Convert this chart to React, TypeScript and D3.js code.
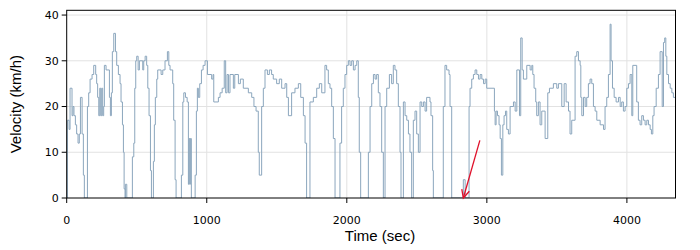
import React from "react";
import * as d3 from "d3";

const times: number[] = [
  0, 5, 17, 24, 38, 45, 52, 62, 71, 81, 90, 98, 110, 119, 126, 148, 157, 167, 181, 193,
  207, 214, 221, 229, 236, 243, 250, 257, 264, 269, 281, 305, 312, 319, 326, 336, 348, 357, 369, 381,
  388, 398, 405, 410, 417, 419, 429, 469, 479, 486, 493, 500, 510, 519, 543, 550, 560, 571, 579, 588,
  598, 605, 619, 626, 633, 643, 650, 674, 686, 702, 719, 729, 738, 757, 764, 774, 781, 819, 829, 836,
  848, 860, 869, 874, 879, 883, 890, 917, 926, 933, 940, 950, 962, 974, 988, 1005, 1035, 1045, 1050, 1083,
  1095, 1110, 1125, 1135, 1145, 1155, 1166, 1190, 1200, 1226, 1240, 1261, 1297, 1321, 1337, 1352, 1368, 1375, 1392, 1404,
  1416, 1433, 1447, 1463, 1475, 1499, 1518, 1535, 1559, 1571, 1583, 1606, 1630, 1654, 1671, 1690, 1702, 1713, 1737, 1761,
  1785, 1804, 1821, 1844, 1856, 1868, 1880, 1892, 1904, 1916, 1951, 1963, 1975, 1987, 1999, 2011, 2023, 2035, 2047, 2059,
  2071, 2082, 2089, 2099, 2154, 2166, 2178, 2190, 2202, 2213, 2225, 2237, 2249, 2261, 2273, 2285, 2304, 2320, 2332, 2344,
  2356, 2368, 2380, 2387, 2404, 2416, 2428, 2440, 2451, 2463, 2475, 2487, 2499, 2511, 2523, 2535, 2547, 2559, 2570, 2594,
  2601, 2613, 2618, 2689, 2701, 2713, 2730, 2737, 2749, 2832, 2845, 2873, 2880, 2892, 2904, 2916, 2928, 2940, 2952, 2964,
  2976, 2988, 2999, 3054, 3059, 3066, 3076, 3087, 3095, 3104, 3114, 3123, 3133, 3142, 3154, 3166, 3190, 3202, 3214, 3233,
  3242, 3252, 3261, 3285, 3309, 3321, 3328, 3337, 3349, 3356, 3368, 3380, 3392, 3416, 3435, 3447, 3475, 3499, 3511, 3535,
  3552, 3566, 3583, 3594, 3606, 3630, 3642, 3654, 3666, 3671, 3678, 3690, 3702, 3713, 3725, 3737, 3749, 3761, 3773, 3785,
  3809, 3833, 3844, 3856, 3868, 3880, 3887, 3897, 3909, 3923, 3940, 3952, 3963, 3975, 3987, 3999, 4011, 4023, 4035, 4042,
  4070, 4082, 4094, 4106, 4118, 4130, 4142, 4154, 4166, 4175, 4185, 4194, 4209, 4225, 4237, 4252, 4261, 4270, 4278, 4285,
  4297, 4309, 4321, 4332, 4347,
];

const velocities: number[] = [
  0, 17, 15, 24, 18, 20, 18, 16, 14, 12, 14, 22, 14, 5, 0, 20, 23, 26, 27, 29,
  27, 25, 22, 18, 24, 18, 24, 18, 20, 29, 28, 22, 18, 23, 32, 36, 32, 29, 27, 25,
  21, 16, 10, 2, 0, 3, 0, 9, 12, 24, 30, 31, 28, 30, 28, 30, 31, 29, 24, 18,
  6, 0, 8, 16, 22, 26, 28, 27, 28, 30, 32, 29, 28, 25, 17, 4, 0, 5, 21, 23,
  22, 21, 3, 13, 3, 13, 0, 5, 19, 24, 22, 25, 28, 29, 30, 27, 26, 27, 21, 22,
  23, 24, 30, 23, 27, 23, 27, 24, 27, 25, 26, 24, 23, 22, 20, 19, 10, 5, 20, 24,
  28, 27, 28, 27, 26, 25, 26, 24, 25, 22, 18, 23, 24, 25, 22, 18, 12, 0, 21, 22,
  24, 25, 23, 29, 28, 25, 24, 20, 13, 0, 12, 20, 24, 27, 29, 30, 29, 30, 28, 29,
  30, 22, 10, 0, 10, 20, 25, 27, 26, 27, 23, 20, 10, 0, 20, 24, 27, 25, 29, 28,
  25, 20, 10, 0, 21, 18, 17, 14, 10, 0, 17, 19, 14, 10, 21, 20, 21, 19, 22, 21,
  18, 6, 0, 20, 29, 28, 27, 20, 0, 4, 0, 20, 24, 26, 27, 28, 27, 26, 27, 26,
  25, 26, 24, 19, 16, 19, 18, 16, 13, 5, 16, 18, 19, 15, 14, 20, 21, 19, 28, 18,
  35, 28, 26, 29, 28, 29, 27, 24, 21, 18, 21, 16, 19, 13, 23, 24, 25, 24, 25, 20,
  25, 21, 19, 14, 17, 31, 32, 30, 29, 22, 18, 22, 20, 22, 25, 26, 25, 20, 19, 17,
  16, 15, 20, 22, 27, 38, 30, 24, 22, 21, 22, 20, 21, 19, 20, 24, 25, 27, 18, 29,
  21, 17, 16, 18, 17, 16, 17, 16, 15, 14, 18, 20, 24, 27, 32, 20, 34, 35, 31, 27,
  25, 24, 23, 22, 22,
];

const xTicks: number[] = [0, 1000, 2000, 3000, 4000];
const yTicks: number[] = [0, 10, 20, 30, 40];

const W = 700;
const H = 250;
const left = 66.7;
const right = 675.5;
const top = 10.3;
const bottom = 198;

export default function App() {
  const x = d3.scaleLinear().domain([0, 4347]).range([left, right]);
  const y = d3.scaleLinear().domain([0, 41.04]).range([bottom, top]);
  const pts: [number, number][] = times.map((t, i) => [t, velocities[i]]);
  const line = d3
    .line<[number, number]>()
    .x((d) => x(d[0]))
    .y((d) => y(d[1]))
    .curve(d3.curveStepAfter);

  // annotation arrow (in data space)
  const a0: [number, number] = [2950, 12.6];
  const a1: [number, number] = [2832, 0];
  const x0 = x(a0[0]), y0 = y(a0[1]), x1 = x(a1[0]), y1 = y(a1[1]);
  const ang = Math.atan2(y1 - y0, x1 - x0);
  const hl = 9;
  const hs = 0.45;
  const h1 = [x1 - hl * Math.cos(ang - hs), y1 - hl * Math.sin(ang - hs)];
  const h2 = [x1 - hl * Math.cos(ang + hs), y1 - hl * Math.sin(ang + hs)];

  const tickFont = "'DejaVu Sans', Verdana, sans-serif";
  const titleFont = "'Liberation Sans', Arial, sans-serif";

  return (
    <svg
      width={W}
      height={H}
      style={{ position: "absolute", left: 0, top: 0, background: "#fff" }}
    >
      <defs>
        <clipPath id="plotclip">
          <rect x={left} y={top} width={right - left} height={bottom - top} />
        </clipPath>
      </defs>
      <rect x={0} y={0} width={W} height={H} fill="#fff" />
      {/* grid */}
      {xTicks
        .filter((t) => t > 0)
        .map((t) => (
          <line key={"gx" + t} x1={x(t)} x2={x(t)} y1={top} y2={bottom} stroke="#e2e2e2" strokeWidth={1} />
        ))}
      {yTicks
        .filter((t) => t > 0)
        .map((t) => (
          <line key={"gy" + t} x1={left} x2={right} y1={y(t)} y2={y(t)} stroke="#e2e2e2" strokeWidth={1} />
        ))}
      {/* data */}
      <path
        d={line(pts) || ""}
        fill="none"
        stroke="#8ba6bd"
        strokeWidth={1}
        clipPath="url(#plotclip)"
      />
      {/* frame */}
      <rect x={left} y={top} width={right - left} height={bottom - top} fill="none" stroke="#000" strokeWidth={1} />
      {/* y ticks */}
      {yTicks.map((t) => (
        <g key={"yt" + t}>
          <line x1={left - 5} x2={left} y1={y(t)} y2={y(t)} stroke="#000" strokeWidth={1} />
          <text
            x={left - 8}
            y={y(t)}
            dy="0.35em"
            textAnchor="end"
            fontFamily={tickFont}
            fontSize={11}
            fill="#000"
          >
            {t}
          </text>
        </g>
      ))}
      {/* x ticks */}
      {xTicks.map((t) => (
        <g key={"xt" + t}>
          <line x1={x(t)} x2={x(t)} y1={bottom} y2={bottom + 5} stroke="#000" strokeWidth={1} />
          <text
            x={x(t)}
            y={224}
            textAnchor="middle"
            fontFamily={tickFont}
            fontSize={11}
            fill="#000"
          >
            {t}
          </text>
        </g>
      ))}
      {/* titles */}
      <text
        x={380}
        y={241}
        textAnchor="middle"
        fontFamily={titleFont}
        fontSize={15}
        fill="#000"
      >
        Time (sec)
      </text>
      <text
        transform={`translate(21,${(top + bottom) / 2}) rotate(-90)`}
        textAnchor="middle"
        fontFamily={titleFont}
        fontSize={15}
        fill="#000"
      >
        Velocity (km/h)
      </text>
      {/* annotation arrow */}
      <g stroke="#e0102a" strokeWidth={1.3} fill="none">
        <line x1={x0} y1={y0} x2={x1} y2={y1} />
        <polyline points={`${h1[0]},${h1[1]} ${x1},${y1} ${h2[0]},${h2[1]}`} />
      </g>
    </svg>
  );
}
